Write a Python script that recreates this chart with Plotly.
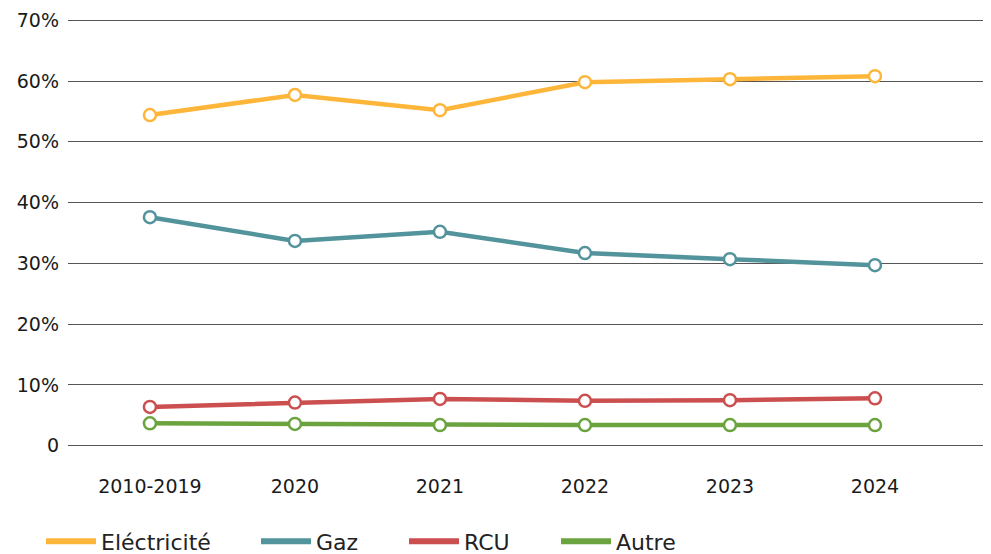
import plotly.graph_objects as go

categories = ["2010-2019", "2020", "2021", "2022", "2023", "2024"]
electricite = [54.4, 57.7, 55.2, 59.8, 60.3, 60.8]
gaz = [37.6, 33.7, 35.2, 31.7, 30.7, 29.7]
rcu = [6.4, 7.1, 7.7, 7.4, 7.5, 7.8]
autre = [3.7, 3.6, 3.4, 3.4, 3.4, 3.4]

series_names = ["Eléctricité", "Gaz", "RCU", "Autre"]
series_values = [electricite, gaz, rcu, autre]
colors = ["#FDB63A", "#53939C", "#CC4F50", "#6BA33F"]

y_tickvals = [0, 10, 20, 30, 40, 50, 60, 70]
y_ticktext = ["0", "10%", "20%", "30%", "40%", "50%", "60%", "70%"]

FONT = "DejaVu Sans"
W, H = 991, 554

fig = go.Figure()
xi = list(range(len(categories)))
for name, vals, col in zip(series_names, series_values, colors):
    fig.add_trace(go.Scatter(
        x=xi, y=vals, mode="lines+markers", name=name, showlegend=False,
        line=dict(color=col, width=4.5),
        marker=dict(symbol="circle", size=12, color="white",
                    line=dict(color=col, width=2.5)),
    ))

legend_x_px = [41, 256, 404, 556]
legend_keys = ["legend", "legend2", "legend3", "legend4"]
for name, col, key in zip(series_names, colors, legend_keys):
    fig.add_trace(go.Scatter(
        x=[None], y=[None], mode="lines", name=name, showlegend=True,
        legend=key, line=dict(color=col, width=6),
    ))

legend_layout = {}
for key, px in zip(legend_keys, legend_x_px):
    legend_layout[key] = dict(
        orientation="h", xref="container", yref="container",
        x=px / W, xanchor="left", y=1 - 541.5 / H, yanchor="middle",
        font=dict(family=FONT, size=22, color="#222"),
        itemwidth=50, bgcolor="rgba(0,0,0,0)",
    )

fig.update_layout(
    width=W, height=H,
    margin=dict(l=68, r=8, t=19, b=107),
    paper_bgcolor="white", plot_bgcolor="white",
    font=dict(family=FONT, size=19, color="#1a1a1a"),
    xaxis=dict(
        range=[-0.565, 5.745], tickmode="array", tickvals=xi, ticktext=categories,
        showgrid=False, zeroline=False, showline=False, ticks="",
        ticklabelstandoff=26, tickfont=dict(size=19), automargin=False,
    ),
    yaxis=dict(
        range=[-0.2, 70.2], tickmode="array", tickvals=y_tickvals, ticktext=y_ticktext,
        showgrid=True, gridcolor="#555555", gridwidth=1, zeroline=False,
        showline=False, ticks="", ticklabelstandoff=8, tickfont=dict(size=19),
        automargin=False,
    ),
    **legend_layout,
)

fig.write_html(
    "out.html",
    config={"displayModeBar": False},
    post_script="document.body.style.margin='0';document.body.style.overflow='hidden';",
)
